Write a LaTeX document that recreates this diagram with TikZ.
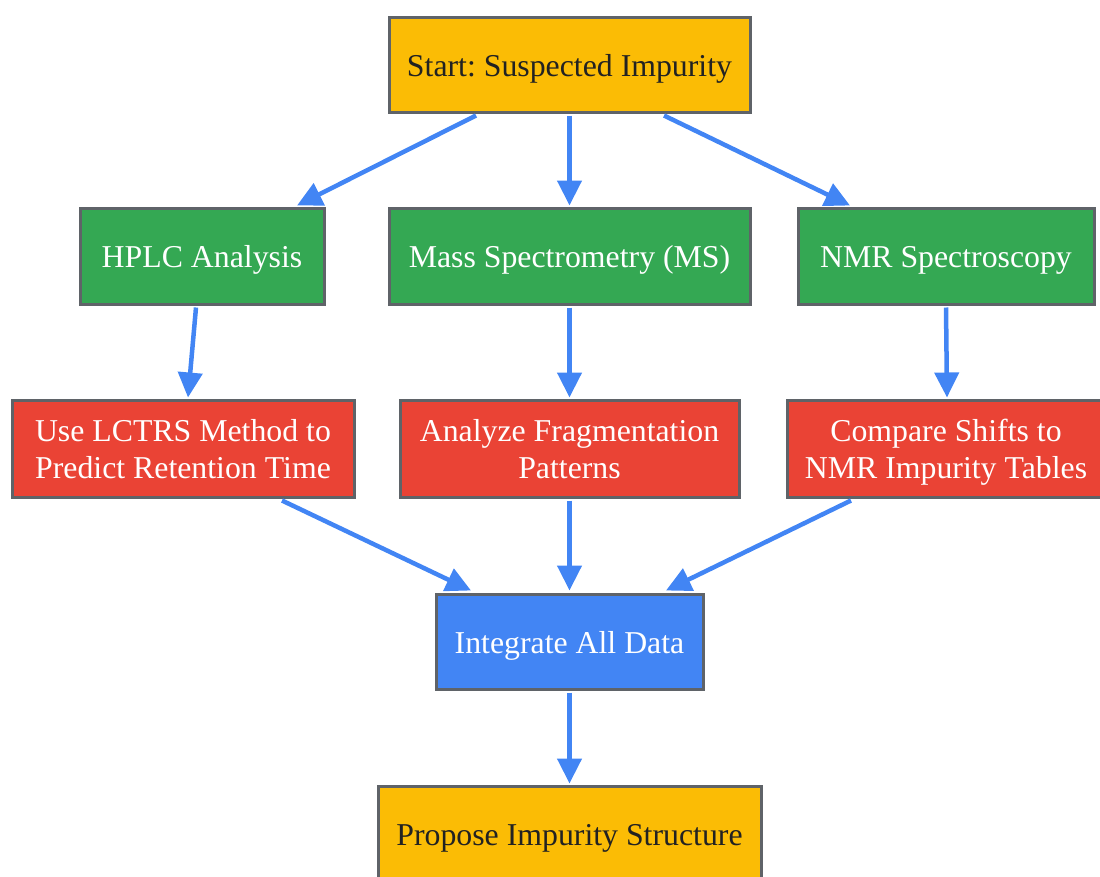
\documentclass[tikz,border=0pt]{standalone}
\usepackage{fontspec}
\setmainfont{Liberation Serif}
\usetikzlibrary{arrows.meta,calc}
\definecolor{cyel}{HTML}{FBBC05}
\definecolor{cgrn}{HTML}{34A853}
\definecolor{cred}{HTML}{EA4335}
\definecolor{cblu}{HTML}{4285F4}
\definecolor{cbrd}{HTML}{5F6368}
\definecolor{ctxt}{HTML}{222222}
\frenchspacing
\begin{document}
\begin{tikzpicture}[x=1pt,y=-1pt,
  box/.style={draw=cbrd, line width=3pt, rectangle, align=center, inner sep=0pt,
    font=\fontsize{31.8}{37}\selectfont, text height=23pt, text depth=0pt},
  two/.style={text height=60.5pt, text depth=0pt},
  ybox/.style={box, fill=cyel, text=ctxt},
  gbox/.style={box, fill=cgrn, text=white},
  rbox/.style={box, fill=cred, text=white},
  bbox/.style={box, fill=cblu, text=white},
  arr/.style={draw=cblu, line width=4.5pt, -{Triangle[length=25pt,width=24pt]}}]
\useasboundingbox (0,0) rectangle (1100,876);
\begin{scope}
\clip (0,0) rectangle (1100,876);
\node[ybox, minimum width=361pt, minimum height=95pt] (start) at (569.5,64.5) {Start: Suspected Impurity};
\node[gbox, minimum width=244pt, minimum height=96pt] (hplc) at (202,256) {HPLC Analysis};
\node[gbox, minimum width=361pt, minimum height=96pt] (ms) at (569.5,256) {Mass Spectrometry (MS)};
\node[gbox, minimum width=296pt, minimum height=96pt] (nmr) at (946,256) {NMR Spectroscopy};
\node[rbox, two, minimum width=342pt, minimum height=97pt] (lctrs) at (183,448.5) {Use LCTRS Method to\\Predict Retention Time};
\node[rbox, two, minimum width=339pt, minimum height=97pt] (frag) at (569.5,448.5) {Analyze Fragmentation\\Patterns};
\node[rbox, two, minimum width=318pt, minimum height=97pt] (comp) at (946,448.5) {Compare Shifts to\\NMR Impurity Tables};
\node[bbox, minimum width=267pt, minimum height=95pt] (integ) at (569.5,641.5) {Integrate All Data};
\node[ybox, minimum width=383pt, minimum height=96pt] (prop) at (569.5,834) {Propose Impurity Structure};
\end{scope}
\draw[arr] ($(start.south)+(-93.5,2)$) -- ($(hplc.north)+(95,-1)$);
\draw[arr] ($(start.south)+(0,2)$) -- ($(ms.north)+(0,-1)$);
\draw[arr] ($(start.south)+(94.5,2)$) -- ($(nmr.north)+(-96,-1)$);
\draw[arr] ($(hplc.south)+(-6,2)$) -- ($(lctrs.north)+(5,-1)$);
\draw[arr] ($(ms.south)+(0,2)$) -- ($(frag.north)+(0,-1)$);
\draw[arr] ($(nmr.south)+(0,2)$) -- ($(comp.north)+(1,-1)$);
\draw[arr] ($(lctrs.south)+(99,2)$) -- ($(integ.north)+(-98.5,-2)$);
\draw[arr] ($(frag.south)+(0,2)$) -- ($(integ.north)+(0,-2)$);
\draw[arr] ($(comp.south)+(-95,2)$) -- ($(integ.north)+(96.5,-2)$);
\draw[arr] ($(integ.south)+(0,2)$) -- ($(prop.north)+(0,-1)$);
\end{tikzpicture}
\end{document}
